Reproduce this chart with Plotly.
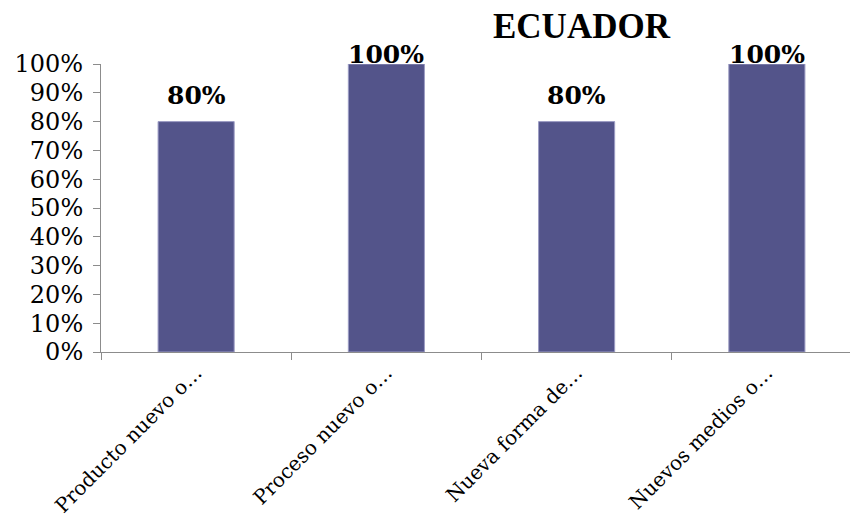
import plotly.graph_objects as go

categories = ["Producto nuevo o…", "Proceso nuevo o…", "Nueva forma de…", "Nuevos medios o…"]
values = [80, 100, 80, 100]
value_labels = ["80%", "100%", "80%", "100%"]
y_ticks = [0, 10, 20, 30, 40, 50, 60, 70, 80, 90, 100]
y_tick_labels = [f"{t}%" for t in y_ticks]
title = "ECUADOR"

FONT = "DejaVu Serif"

# page has an 8px body margin; plot area spans x 101..862, y 64..352 on screen
L, R, T, B = 93, 4, 56, 187
W, H = 858, 531
pw, ph = W - L - R, H - T - B

fig = go.Figure()
fig.add_trace(go.Bar(
    x=categories, y=values,
    marker=dict(color="#53548A", line=dict(color="#9C9CC4", width=1)),
    width=0.4,
    hoverinfo="skip",
))

for c, v, lab in zip(categories, values, value_labels):
    fig.add_annotation(
        x=c, y=v, yref="y", text=f"<b>{lab}</b>",
        showarrow=False, yanchor="middle", xanchor="center",
        yshift=26 if v < 100 else 10,
        font=dict(family=FONT, size=25, color="black"),
    )

fig.add_annotation(
    x=(582 - 101) / pw, y=1 + (64 - 27) / ph, xref="paper", yref="paper",
    text=f"<b>{title}</b>", showarrow=False, xanchor="center", yanchor="middle",
    font=dict(family="Liberation Serif", size=35, color="black"),
)

fig.update_layout(
    width=W, height=H,
    margin=dict(l=L, r=R, t=T, b=B),
    paper_bgcolor="white", plot_bgcolor="white",
    showlegend=False,
    font=dict(family=FONT, color="black"),
)
fig.update_xaxes(
    type="category", range=[-0.5, 3.5],
    showline=True, linecolor="#8C8C8C", linewidth=1,
    ticks="outside", tickson="boundaries", ticklen=7, tickcolor="#8C8C8C",
    tickangle=-45, tickfont=dict(family=FONT, size=20, color="black"),
    showgrid=False, zeroline=False,
)
fig.update_yaxes(
    range=[0, 100], tickvals=y_ticks, ticktext=y_tick_labels,
    showline=True, linecolor="#8C8C8C", linewidth=1,
    ticks="outside", ticklen=7, tickcolor="#8C8C8C", ticklabelstandoff=5,
    tickfont=dict(family=FONT, size=24, color="black"),
    showgrid=False, zeroline=False,
)

fig.write_html("out.html")
